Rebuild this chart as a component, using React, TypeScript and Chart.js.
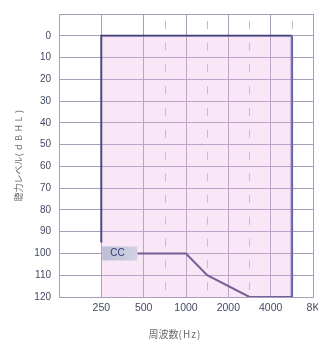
import { useEffect, useRef } from 'react';
import { Chart, registerables } from 'chart.js';

Chart.register(...registerables);

// ---- data ----
const freqTicks = [125, 250, 500, 1000, 2000, 4000, 8000];
const freqLabels = ['', '250', '500', '1000', '2000', '4000', '8K'];
const midFreqs = [707, 1414, 2828, 5657];
const dbTicks = [-10, 0, 10, 20, 30, 40, 50, 60, 70, 80, 90, 100, 110, 120];
const boundaryFreq = [250, 250, 5657, 5657, 2828, 1414, 1000, 450];
const boundaryDb = [95, 0, 0, 120, 120, 110, 100, 100];
const fillFreq = [250, 5657];
const fillTopDb = [0, 0];
const fillBottomDb = 120;
const ccText = 'CC';
const ccFreq = 250;
const ccDb = 100;
const xTitleMain = '周波数';
const xTitleUnit = '(Hz)';
const yTitleMain = '聴力レベル';
const yTitleUnit = '(dBHL)';

const decor = {
  id: 'decor',
  beforeDatasetsDraw(chart: any) {
    const { ctx, chartArea, scales } = chart;
    const x = scales.x;
    ctx.save();
    ctx.strokeStyle = '#c2b8d2';
    ctx.lineWidth = 1;
    const cell = (chartArea.bottom - chartArea.top) / 13;
    const dash = 8;
    ctx.setLineDash([dash, cell - dash]);
    ctx.lineDashOffset = cell - (cell - dash) / 2;
    midFreqs.forEach((f) => {
      const px = Math.round(x.getPixelForValue(f)) + 0.5;
      ctx.beginPath();
      ctx.moveTo(px, chartArea.top);
      ctx.lineTo(px, chartArea.bottom);
      ctx.stroke();
    });
    ctx.restore();
  },
  afterDatasetsDraw(chart: any) {
    const { ctx, scales } = chart;
    const px = scales.x.getPixelForValue(ccFreq);
    const py = scales.y.getPixelForValue(ccDb);
    ctx.save();
    const grad = ctx.createLinearGradient(px, 0, px + 36, 0);
    grad.addColorStop(0, '#bcbdd6');
    grad.addColorStop(1, '#d2d2e4');
    ctx.fillStyle = grad;
    ctx.fillRect(px + 1, py - 7, 35, 14);
    ctx.fillStyle = '#353a6c';
    ctx.font = '10px "Liberation Sans", sans-serif';
    ctx.textBaseline = 'middle';
    ctx.textAlign = 'left';
    ctx.fillText(ccText, px + 9, py);
    ctx.restore();
  },
  afterDraw(chart: any) {
    const { ctx } = chart;
    ctx.save();
    ctx.fillStyle = '#6b6b6b';
    ctx.textBaseline = 'middle';
    ctx.textAlign = 'left';
    // x title
    ctx.font = '10px "Noto Sans CJK JP", sans-serif';
    ctx.letterSpacing = '0px';
    const w1 = ctx.measureText(xTitleMain).width;
    ctx.letterSpacing = '1px';
    const w2 = ctx.measureText(xTitleUnit).width;
    let sx = 175 - (w1 + w2) / 2;
    ctx.letterSpacing = '0px';
    ctx.fillText(xTitleMain, sx, 334);
    ctx.letterSpacing = '1px';
    ctx.fillText(xTitleUnit, sx + w1, 334);
    // y title
    ctx.translate(19, 154);
    ctx.rotate(-Math.PI / 2);
    ctx.font = '9px "Noto Sans CJK JP", sans-serif';
    ctx.letterSpacing = '0px';
    const v1 = ctx.measureText(yTitleMain).width;
    ctx.letterSpacing = '3.5px';
    const v2 = ctx.measureText(yTitleUnit).width;
    sx = -(v1 + v2) / 2;
    ctx.letterSpacing = '0px';
    ctx.fillText(yTitleMain, sx, 0);
    ctx.letterSpacing = '3.5px';
    ctx.fillText(yTitleUnit, sx + v1, 0);
    ctx.restore();
  },
};

export default function App() {
  const ref = useRef<HTMLCanvasElement>(null);
  useEffect(() => {
    if (!ref.current) return;
    const gridColor = '#a99db9';
    const chart = new Chart(ref.current, {
      type: 'scatter',
      data: {
        datasets: [
          {
            data: fillFreq.map((f, i) => ({ x: f, y: fillTopDb[i] })),
            showLine: true,
            borderWidth: 0,
            borderColor: 'rgba(0,0,0,0)',
            pointRadius: 0,
            backgroundColor: 'rgba(236,178,226,0.32)',
            fill: { value: fillBottomDb },
          } as any,
          {
            data: boundaryFreq.map((f, i) => ({ x: f, y: boundaryDb[i] })),
            showLine: true,
            borderWidth: 2,
            borderColor: '#363b74',
            pointRadius: 0,
            fill: false,
            segment: {
              borderColor: (c: any) => (c.p0DataIndex === 2 ? '#5e63a8' : undefined),
              borderWidth: (c: any) => (c.p0DataIndex === 2 ? 2.5 : undefined),
            },
          } as any,
        ],
      },
      options: {
        animation: false,
        responsive: false,
        events: [],
        layout: { padding: { top: 14, right: 5, left: 0, bottom: 0 } },
        plugins: { legend: { display: false }, tooltip: { enabled: false } },
        scales: {
          x: {
            type: 'logarithmic',
            min: 125,
            max: 8000,
            afterBuildTicks: (s: any) => {
              s.ticks = freqTicks.map((v) => ({ value: v }));
            },
            afterFit: (s: any) => {
              s.height = 54;
              s.paddingLeft = 0;
              s.paddingRight = 0;
            },
            grid: { color: gridColor, lineWidth: 1, drawTicks: false },
            border: { color: gridColor },
            ticks: {
              padding: 5,
              autoSkip: false,
              maxRotation: 0,
              color: '#454a62',
              font: { family: '"Liberation Sans", sans-serif', size: 10.5 },
              callback: (v: any) => {
                const i = freqTicks.indexOf(Number(v));
                return i >= 0 ? freqLabels[i] : '';
              },
            },
          },
          y: {
            type: 'linear',
            reverse: true,
            min: -10,
            max: 120,
            afterBuildTicks: (s: any) => {
              s.ticks = dbTicks.map((v) => ({ value: v }));
            },
            afterFit: (s: any) => {
              s.width = 59;
              s.paddingTop = 0;
              s.paddingBottom = 0;
            },
            grid: { color: gridColor, lineWidth: 1, drawTicks: false },
            border: { color: gridColor },
            ticks: {
              padding: 8,
              autoSkip: false,
              color: '#454a62',
              font: { family: '"Liberation Sans", sans-serif', size: 10 },
              callback: (v: any) => (Number(v) === -10 ? '' : String(v)),
            },
          },
        },
      },
      plugins: [decor],
    });
    return () => chart.destroy();
  }, []);
  return (
    <div style={{ position: 'fixed', left: 0, top: 0, width: 318, height: 351, background: '#fff', overflow: 'hidden' }}>
      <canvas ref={ref} width={318} height={351} style={{ display: 'block', width: 318, height: 351 }} />
    </div>
  );
}
